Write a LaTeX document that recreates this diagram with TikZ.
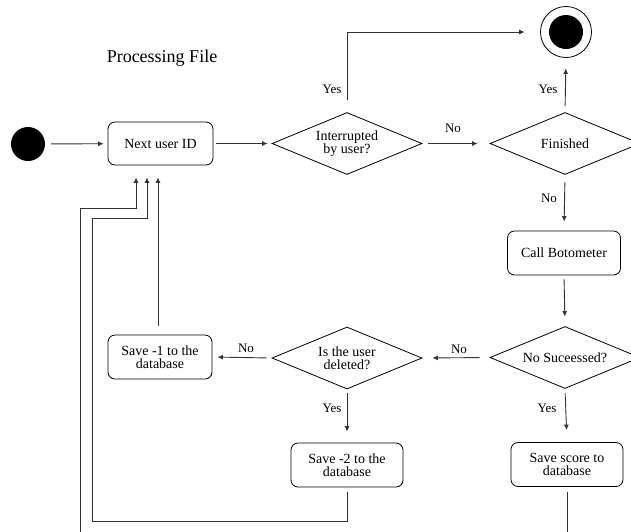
\documentclass[tikz,border=0pt]{standalone}
\usepackage{fontspec}
\setmainfont{Liberation Serif}
\usetikzlibrary{shapes.geometric,arrows.meta}
\begin{document}
\begin{tikzpicture}[x=1pt,y=-1pt,
  every node/.style={font=\fontsize{14}{12.5}\selectfont},
  proc/.style={draw, rounded corners=7pt, align=center, minimum height=44pt,
    inner sep=0pt, line width=0.8pt},
  decision/.style={draw, diamond, aspect=2.4, minimum width=150pt,
    minimum height=62pt, inner sep=0pt, align=center, line width=0.8pt},
  flow/.style={draw=black!80, line width=0.9pt,
    -{Latex[length=5.5pt,width=5pt]}},
  lbl/.style={font=\fontsize{13}{13}\selectfont, inner sep=0pt},
]
\useasboundingbox (0,0) rectangle (631,531);
\clip (0,0) rectangle (631,531);

% title
\node[font=\fontsize{18}{18}\selectfont] (title) at (162,58) {Processing File};

% start and end states
\node[circle, fill=black, minimum size=34pt, inner sep=0pt] (start) at (28,144) {};
\node[circle, draw, line width=0.8pt, minimum size=51pt, inner sep=0pt] (endc) at (566,32) {};
\node[circle, fill=black, minimum size=34pt, inner sep=0pt] (endin) at (566,32) {};

% steps and decisions
\node[proc, minimum width=105pt, minimum height=43pt] (next) at (160.5,143.5) {Next user ID};
\node[decision] (intr) at (347,143.5) {Interrupted\\by user?};
\node[decision] (fin) at (565,143.5) {Finished};
\node[proc, minimum width=113pt] (bot) at (564,253) {Call Botometer};
\node[decision] (nos) at (565,357.5) {No Suceessed?};
\node[decision] (del) at (347,358) {Is the user\\deleted?};
\node[proc, minimum width=104pt] (s1) at (160,357) {Save -1 to the\\database};
\node[proc, minimum width=112pt] (s2) at (347,465) {Save -2 to the\\database};
\node[proc, minimum width=112pt] (sc) at (567,464.5) {Save score to\\database};

% corner points of the return loops
\coordinate (c1) at (92,521);
\coordinate (c2) at (92,218);
\coordinate (c3) at (80,560);
\coordinate (c4) at (80,208);

% main flow
\draw[flow, shorten <=6pt, shorten >=4pt] (start) -- (next);
\draw[flow, shorten <=3pt, shorten >=4pt] (next) -- (intr);
\draw[flow, shorten <=6pt, shorten >=12pt] (intr) -- (fin);
\draw[flow, shorten <=12.5pt, shorten >=15.5pt] (intr.north) |- (endc.west);
\draw[flow, shorten <=6.5pt, shorten >=10.5pt] (fin.north) -- (endc.south);
\draw[flow, shorten <=7.5pt, shorten >=9pt] (fin.south) -- (bot.north);
\draw[flow, shorten <=4pt, shorten >=9.5pt] (bot.south) -- (nos.north);
\draw[flow, shorten <=10pt, shorten >=10pt] (nos.west) -- (del.east);
\draw[flow, shorten <=4.5pt, shorten >=12pt] (nos.south) -- (sc.north);
\draw[flow, shorten <=5pt, shorten >=5pt] (del.west) -- (s1.east);
\draw[flow, shorten <=4pt, shorten >=11pt] (del.south) -- (s2.north);

% return loops to the next user
\draw[flow, shorten <=9pt, shorten >=12pt] ([xshift=-2pt]s1.north) -- ([xshift=-2.5pt]next.south);
\draw[flow, shorten <=5pt, shorten >=12pt] (s2.south) |- (c1) -- (c2) -| ([xshift=-13.5pt]next.south);
\draw[flow, shorten <=5pt, shorten >=12pt] (sc.south) |- (c3) -- (c4) -| ([xshift=-24.5pt]next.south);

% branch labels
\node[lbl] (l1) at (453,128) {No};
\node[lbl] (l2) at (332,89) {Yes};
\node[lbl] (l3) at (548,89) {Yes};
\node[lbl] (l4) at (549,198) {No};
\node[lbl] (l5) at (459,349) {No};
\node[lbl] (l6) at (547,408) {Yes};
\node[lbl] (l7) at (246,348) {No};
\node[lbl] (l8) at (332,408) {Yes};
\end{tikzpicture}
\end{document}
